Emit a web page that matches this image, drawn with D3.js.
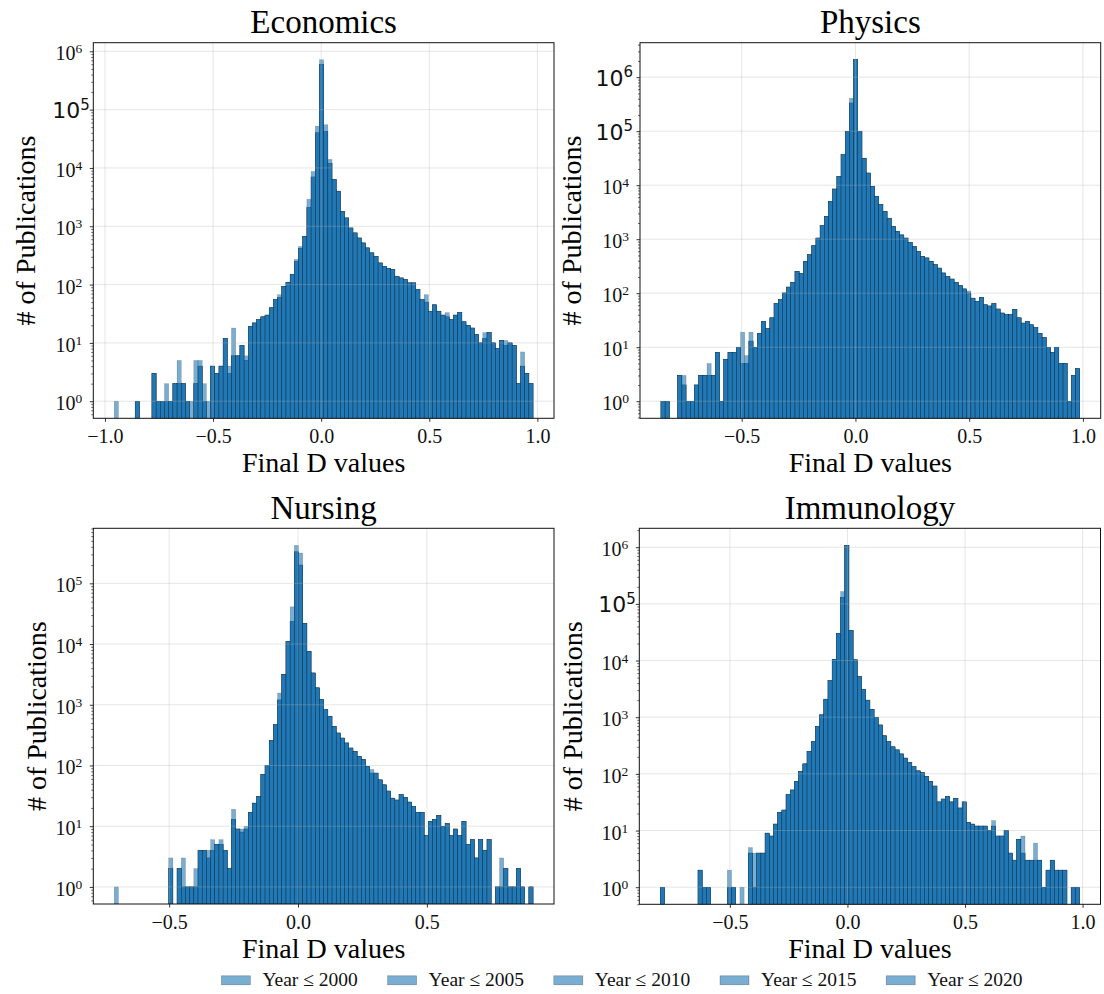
<!DOCTYPE html>
<html>
<head>
<meta charset="utf-8">
<script src="https://cdn.jsdelivr.net/npm/d3@7"></script>
<style>
  body { margin: 0; background: #fff; }
  svg { display: block; }
</style>
</head>
<body>
<svg id="chart" width="1104" height="994"></svg>
<script>
// ---- data -------------------------------------------------------------
const fields = ["Economics", "Physics", "Nursing", "Immunology"];
const seriesLabels = ["Year \u2264 2000", "Year \u2264 2005", "Year \u2264 2010", "Year \u2264 2015", "Year \u2264 2020"];
const binCount = 100;

// range of D values spanned by the 100 bins of each field
const econRange = [-0.957, 0.980];
const physRange = [-0.855, 0.986];
const nursRange = [-0.713, 0.912];
const immuRange = [-0.796, 0.987];

// counts per bin reached by every cut-off year
const econShared = [0,0,0,0,0,1,0,0,0,3, 1,1,1,1,2,2,2,1,0,2, 4,1,0,4,3,4,12,3,6,6,
  9,5,19,22,25,28,30,40,55,60, 93,110,150,250,420,670,2100,7000,40000,600000,
  42000,12000,6300,4000,1800,1390,935,769,630,518, 426,350,306,235,206,190,181,138,130,122,
  107,107,82,55,50,35,45,35,30,28, 25,30,33,23,20,18,14,10,12,15, 10,8,11,9,10,9,2,4,3,2];
// counts per bin of the tallest cut-off year
const econTop = [1,0,0,0,0,1,0,0,0,3, 1,1,2,1,2,5,2,1,1,5, 5,2,1,4,3,4,12,4,18,6,
  9,6,19,22,25,28,30,40,55,67, 93,110,150,270,450,670,2900,8700,52000,716000,
  55000,14000,6300,4000,1800,1390,935,769,630,518, 426,350,306,235,206,190,181,138,130,122,
  107,107,82,55,67,35,45,35,30,33, 25,30,33,23,20,18,14,10,15,15, 10,8,11,11,10,9,2,7,3,2];

const physShared = [1,1,0,0,3,2,1,1,2,3, 3,3,3,8,1,6,8,8,10,5, 5,13,10,18,30,22,35,64,76,101,
  130,158,254,230,388,517,755,1050,1780,2640, 5000,8500,14500,36600,99000,332000,2100000,100000,31600,16800,
  9500,6200,4360,3260,2450,1720,1390,1200,1050,870, 735,595,480,450,390,337,292,237,205,183,
  159,138,120,101,81,71,84,61,58,64, 51,43,40,40,50,35,28,30,26,23, 18,15,10,8,10,5,5,1,3,4];
const physTop = [1,1,0,0,3,3,1,1,2,3, 3,5,3,8,1,6,8,8,10,19, 7,19,10,18,30,22,35,64,76,101,
  130,158,254,230,388,517,755,1050,1780,2640, 5000,8500,14500,36600,99000,407000,2100000,100000,31600,16800,
  9500,6200,4360,3260,2450,1720,1390,1200,1050,870, 735,595,480,450,390,337,292,237,205,183,
  159,138,120,110,81,71,84,61,58,64, 51,43,40,40,50,35,28,30,26,23, 18,15,10,8,10,5,5,1,3,4];

const nursShared = [0,0,0,0,0,0,0,0,0,0, 0,0,0,2,0,2,1,1,1,1, 4,4,3,4,5,5,4,2,13,9,
  8,9,17,24,31,71,99,257,470,1200, 3160,11000,23600,330000,200000,22000,7600,3340,1900,1220,
  830,645,440,343,283,235,194,170,141,125, 97,75,75,58,48,38,29,27,33,30,
  25,21,17,17,7,12,13,15,10,11, 7,9,7,12,5,6,3,6,4,6, 0,1,1,2,1,1,2,1,0,1];
const nursTop = [1,0,0,0,0,0,0,0,0,0, 0,0,0,3,0,2,3,1,1,2, 4,4,4,6,5,6,4,2,19,9,
  9,10,17,24,31,71,99,257,470,1560, 3160,11000,41000,422000,316000,22000,7600,3340,1900,1220,
  830,645,440,343,283,235,194,170,141,125, 97,86,75,58,48,38,29,27,33,30,
  25,21,17,17,7,12,13,15,10,11, 7,9,7,12,5,6,3,6,4,6, 0,1,3,2,1,1,2,1,0,1];

const immuShared = [1,0,0,0,0,0,0,0,0,2, 1,1,0,0,0,0,1,1,0,0, 0,4,1,4,4,9,8,13,21,23,
  43,52,73,110,150,248,370,690,1100,2080, 4400,10500,30000,130000,1076000,34000,10300,5200,3100,2000,
  1380,1000,730,470,370,300,265,225,190,158, 134,113,105,90,73,61,32,36,40,32,
  37,25,32,14,13,12,12,12,10,12, 8,8,10,4,3,7,4,3,3,3, 3,1,2,3,2,2,2,0,1,1];
const immuTop = [1,0,0,0,0,0,0,0,0,2, 1,1,0,0,0,0,2,1,0,1, 0,5,4,4,4,9,8,13,21,23,
  43,52,73,110,150,248,370,690,1100,2080, 4400,10500,30000,165000,1076000,34000,10300,5200,3100,2000,
  1380,1000,730,470,370,300,265,225,190,158, 134,113,105,90,73,61,32,36,40,32,
  37,25,32,14,13,12,12,12,10,15, 8,8,10,4,3,7,8,3,3,6, 3,1,2,3,2,2,2,0,1,1];

// x tick values per field
const econXTicks = [-1.0, -0.5, 0.0, 0.5, 1.0];
const physXTicks = [-0.5, 0.0, 0.5, 1.0];
const nursXTicks = [-0.5, 0.0, 0.5];
const immuXTicks = [-0.5, 0.0, 0.5, 1.0];

// ---- drawing ----------------------------------------------------------
const SERIF = "'Liberation Serif', 'Times New Roman', Times, serif";
const SANS = "'DejaVu Sans', Verdana, sans-serif";
const BAR = "#1f77b4";

const panels = [
  { field: fields[0], range: econRange, shared: econShared, top: econTop, xticks: econXTicks,
    box: { l: 93.3, r: 554, t: 42.7, b: 418.3 }, ylabelX: 35, sans: [5], sansGap: 3.5 },
  { field: fields[1], range: physRange, shared: physShared, top: physTop, xticks: physXTicks,
    box: { l: 640, r: 1100.7, t: 42.7, b: 418.3 }, ylabelX: 581, sans: [6, 5], sansGap: 7 },
  { field: fields[2], range: nursRange, shared: nursShared, top: nursTop, xticks: nursXTicks,
    box: { l: 93.3, r: 554, t: 528.3, b: 904 }, ylabelX: 46, sans: [], sansGap: 0 },
  { field: fields[3], range: immuRange, shared: immuShared, top: immuTop, xticks: immuXTicks,
    box: { l: 639.3, r: 1100.5, t: 528.3, b: 904.3 }, ylabelX: 582, sans: [5], sansGap: 3.5 }
];

const svg = d3.select("#chart");

panels.forEach((p, pi) => {
  const { l, r, t, b } = p.box;
  const [lo, hi] = p.range;
  const pad = (hi - lo) * 0.05;
  const x = d3.scaleLinear().domain([lo - pad, hi + pad]).range([l, r]);

  const peakLog = Math.log10(d3.max(p.top));
  const y = d3.scaleLog()
    .domain([Math.pow(10, -0.05 * peakLog), Math.pow(10, peakLog * 1.05)])
    .range([b, t]);

  const edges = d3.range(binCount + 1).map(i => lo + (hi - lo) * i / binCount);
  const g = svg.append("g").attr("class", "panel");

  const clipId = "clip" + pi;
  svg.append("clipPath").attr("id", clipId)
    .append("rect").attr("x", l).attr("y", t).attr("width", r - l).attr("height", b - t);

  // one translucent histogram per cut-off year
  const bars = g.append("g").attr("clip-path", `url(#${clipId})`);
  seriesLabels.forEach((name, s) => {
    const counts = s === seriesLabels.length - 1 ? p.top : p.shared;
    const rows = counts.map((v, i) => ({ v, i })).filter(d => d.v > 0);
    bars.append("g").attr("class", "series")
      .selectAll("rect").data(rows).join("rect")
      .attr("x", d => x(edges[d.i]))
      .attr("width", d => x(edges[d.i + 1]) - x(edges[d.i]))
      .attr("y", d => y(d.v))
      .attr("height", d => b - y(d.v))
      .attr("fill", BAR).attr("fill-opacity", 0.6)
      .attr("stroke", "#000").attr("stroke-opacity", 0.3).attr("stroke-width", 0.45);
  });

  const [dLo, dHi] = y.domain();
  const majors = d3.range(Math.ceil(Math.log10(dLo)), Math.floor(Math.log10(dHi)) + 1);
  const minors = [];
  for (let k = Math.floor(Math.log10(dLo)); k <= Math.ceil(Math.log10(dHi)); k++) {
    for (let m = 2; m <= 9; m++) {
      const v = m * Math.pow(10, k);
      if (v >= dLo && v <= dHi) minors.push(v);
    }
  }

  // grid on top of the bars
  const grid = g.append("g").attr("stroke", "#b0b0b0").attr("stroke-opacity", 0.4).attr("stroke-width", 0.8);
  majors.forEach(k => {
    grid.append("line").attr("x1", l).attr("x2", r)
      .attr("y1", y(Math.pow(10, k))).attr("y2", y(Math.pow(10, k)));
  });
  p.xticks.forEach(v => {
    grid.append("line").attr("y1", t).attr("y2", b).attr("x1", x(v)).attr("x2", x(v));
  });

  // x axis
  const xAxis = g.append("g").attr("transform", `translate(0,${b})`)
    .call(d3.axisBottom(x).tickValues(p.xticks).tickFormat(d3.format(".1f"))
      .tickSize(3.5).tickSizeOuter(0).tickPadding(7.3));
  xAxis.select(".domain").remove();
  xAxis.selectAll(".tick line").attr("stroke", "#000").attr("stroke-width", 0.8);
  xAxis.selectAll(".tick text").attr("fill", "#111")
    .style("font-family", SERIF).style("font-size", "20px");

  // y axis: major and minor ticks
  const yMajor = g.append("g").attr("transform", `translate(${l},0)`)
    .call(d3.axisLeft(y).tickValues(majors.map(k => Math.pow(10, k))).tickFormat("").tickSize(3.5).tickSizeOuter(0));
  yMajor.select(".domain").remove();
  yMajor.selectAll(".tick line").attr("stroke", "#000").attr("stroke-width", 0.8);
  const yMinor = g.append("g").attr("transform", `translate(${l},0)`)
    .call(d3.axisLeft(y).tickValues(minors).tickFormat("").tickSize(2).tickSizeOuter(0));
  yMinor.select(".domain").remove();
  yMinor.selectAll(".tick line").attr("stroke", "#000").attr("stroke-width", 0.6);

  // decade labels
  majors.forEach(k => {
    const sans = p.sans.includes(k);
    const yy = y(Math.pow(10, k));
    const txt = g.append("text")
      .attr("x", l - (sans ? p.sansGap : 11))
      .attr("y", yy + (sans ? 8.5 : 9))
      .attr("text-anchor", "end").attr("fill", "#111")
      .style("font-family", sans ? SANS : SERIF)
      .style("font-size", sans ? "22px" : "20px");
    txt.append("tspan").text("10");
    txt.append("tspan").attr("dy", sans ? -8.4 : -7)
      .style("font-size", sans ? "15px" : "13.5px").text(k);
  });

  // frame
  g.append("rect").attr("x", l).attr("y", t).attr("width", r - l).attr("height", b - t)
    .attr("fill", "none").attr("stroke", "#111").attr("stroke-width", 1);

  // titles and axis labels
  g.append("text").attr("x", (l + r) / 2).attr("y", t - 9.5).attr("text-anchor", "middle")
    .style("font-family", SERIF).style("font-size", "33px").attr("fill", "#000").text(p.field);
  g.append("text").attr("x", (l + r) / 2).attr("y", b + 54).attr("text-anchor", "middle")
    .style("font-family", SERIF).style("font-size", "28px").attr("fill", "#000").text("Final D values");
  g.append("text")
    .attr("transform", `translate(${p.ylabelX},${(t + b) / 2}) rotate(-90)`)
    .attr("text-anchor", "middle")
    .style("font-family", SERIF).style("font-size", "28px").attr("fill", "#000").text("# of Publications");
});

// shared legend along the bottom
const legend = svg.append("g").attr("class", "legend");
const legendX = d3.scalePoint().domain(seriesLabels).range([221.4, 886.2]);
seriesLabels.forEach(name => {
  const lx = legendX(name);
  legend.append("rect").attr("x", lx).attr("y", 975.8).attr("width", 29).attr("height", 9)
    .attr("fill", BAR).attr("fill-opacity", 0.6)
    .attr("stroke", "#000").attr("stroke-opacity", 0.35).attr("stroke-width", 0.6);
  legend.append("text").attr("x", lx + 41).attr("y", 986)
    .style("font-family", SERIF).style("font-size", "19.5px").attr("fill", "#111").text(name);
});
</script>
</body>
</html>
